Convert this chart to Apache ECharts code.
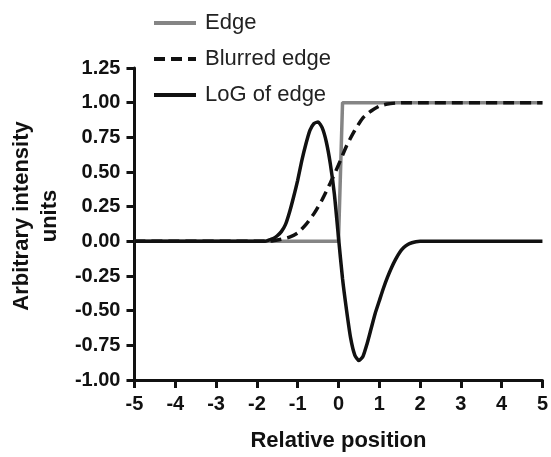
<!DOCTYPE html>
<html>
<head>
<meta charset="utf-8">
<script src="https://cdn.jsdelivr.net/npm/echarts@6/dist/echarts.min.js"></script>
<style>
  html, body { margin: 0; padding: 0; background: #fff; }
  #chart { width: 551px; height: 457px; }
</style>
</head>
<body>
<div id="chart"></div>
<script>
// 横轴刻度 / 纵轴刻度
const xTicks = [-5, -4, -3, -2, -1, 0, 1, 2, 3, 4, 5];
const yTicks = [-1.0, -0.75, -0.5, -0.25, 0, 0.25, 0.5, 0.75, 1.0, 1.25];

// Edge：阶跃边缘
const edgeX = [-5, 0, 0.1, 5];
const edgeY = [0, 0, 1, 1];

// Blurred edge：模糊后的边缘
const blurX = [-5, -2.0, -1.8, -1.6, -1.4, -1.2, -1.0, -0.8, -0.6, -0.4, -0.2, 0, 0.2, 0.4, 0.6, 0.8, 1.0, 1.2, 1.4, 1.6, 1.8, 2.0, 5];
const blurY = [0, 0, 0, 0.005, 0.015, 0.03, 0.06, 0.12, 0.2, 0.3, 0.42, 0.55, 0.69, 0.8, 0.89, 0.94, 0.975, 0.99, 0.997, 1, 1, 1, 1];

// LoG of edge
const logX = [-5, -2.0, -1.9, -1.8, -1.7, -1.6, -1.5, -1.4, -1.3, -1.2, -1.1, -1.0, -0.9, -0.8, -0.7, -0.6, -0.5, -0.4, -0.3, -0.2, -0.1,
  0, 0.1, 0.2, 0.3, 0.4, 0.5, 0.6, 0.7, 0.8, 0.9, 1.0, 1.1, 1.2, 1.3, 1.4, 1.5, 1.6, 1.7, 1.8, 1.9, 2.0, 5];
const logY = [0, 0, 0, 0, 0.01, 0.02, 0.04, 0.07, 0.12, 0.21, 0.32, 0.44, 0.58, 0.7, 0.8, 0.85, 0.86, 0.82, 0.72, 0.56, 0.34,
  0.03, -0.27, -0.5, -0.7, -0.82, -0.86, -0.83, -0.74, -0.63, -0.52, -0.43, -0.34, -0.26, -0.19, -0.13, -0.08, -0.045, -0.022, -0.01, -0.003, 0, 0];

const zip = (xs, ys) => xs.map((x, i) => [x, ys[i]]);

const font = '"Liberation Sans", Arial, sans-serif';
const ink = '#111';

const chart = echarts.init(document.getElementById('chart'));

// 坐标轴公共样式
const axisBase = {
  type: 'value',
  axisLine: { show: true, onZero: false, lineStyle: { color: ink, width: 3 } },
  axisTick: { show: true, length: 8, lineStyle: { color: ink, width: 3 } },
  splitLine: { show: false },
  nameTextStyle: { fontFamily: font, fontSize: 22, fontWeight: 'bold', color: ink },
};

chart.setOption({
  animation: false,
  backgroundColor: '#fff',
  grid: { left: 129, right: 8, top: 68, bottom: 75 },
  legend: {
    orient: 'vertical',
    left: 147,
    top: 7,
    itemWidth: 42,
    itemHeight: 14,
    itemGap: 14,
    itemStyle: { opacity: 0 },
    lineStyle: { width: 4 },
    textStyle: { fontFamily: font, fontSize: 22, color: '#222', padding: [0, 0, 0, 4] },
    data: ['Edge', 'Blurred edge', 'LoG of edge'],
  },
  xAxis: {
    ...axisBase,
    min: xTicks[0],
    max: xTicks[xTicks.length - 1],
    interval: 1,
    name: 'Relative position',
    nameLocation: 'middle',
    nameGap: 50,
    axisLabel: { fontFamily: font, fontSize: 20, fontWeight: 'bold', color: ink, margin: 14 },
  },
  yAxis: {
    ...axisBase,
    min: yTicks[0],
    max: yTicks[yTicks.length - 1],
    interval: 0.25,
    name: 'Arbitrary intensity\nunits',
    nameLocation: 'middle',
    nameGap: 70,
    nameTextStyle: { ...axisBase.nameTextStyle, lineHeight: 28, padding: [0, 0, 0, 16] },
    axisLabel: {
      fontFamily: font, fontSize: 20, fontWeight: 'bold', color: ink, margin: 14,
      formatter: (v) => v.toFixed(2),
    },
  },
  series: [
    {
      name: 'Edge',
      type: 'line',
      data: zip(edgeX, edgeY),
      symbol: 'none',
      lineStyle: { color: '#858585', width: 3.5 },
      itemStyle: { color: '#858585' },
    },
    {
      name: 'Blurred edge',
      type: 'line',
      data: zip(blurX, blurY),
      smooth: 0.2,
      symbol: 'none',
      lineStyle: { color: ink, width: 3.5, type: [11, 6] },
      itemStyle: { color: ink },
    },
    {
      name: 'LoG of edge',
      type: 'line',
      data: zip(logX, logY),
      smooth: 0.2,
      symbol: 'none',
      lineStyle: { color: ink, width: 3.5 },
      itemStyle: { color: ink },
    },
  ],
});
</script>
</body>
</html>
